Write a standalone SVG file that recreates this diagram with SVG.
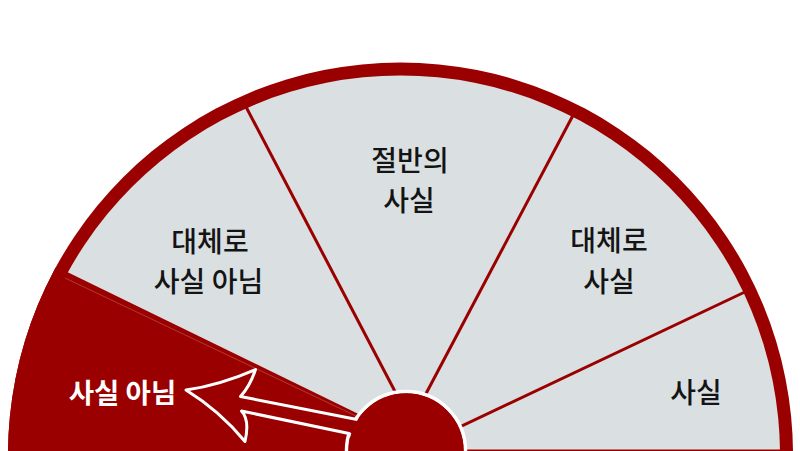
<svg xmlns="http://www.w3.org/2000/svg" width="800" height="451" viewBox="0 0 800 451">
  <defs>
    <clipPath id="outerClip">
      <circle cx="400.5" cy="455" r="392.5"/>
    </clipPath>
    <clipPath id="topClip">
      <rect x="0" y="0" width="800" height="449.5"/>
    </clipPath>
    <style>
      .red { fill: #9b0000; }
      .gray { fill: #dadfe2; }
      .div { stroke: #9b0000; stroke-width: 3; fill: none; }
      .lbl { font-family: "Noto Sans CJK KR", "Noto Sans", sans-serif; font-size: 28px; font-weight: 500; fill: #141414; text-anchor: middle; }
      .lblw { font-family: "Noto Sans CJK KR", "Noto Sans", sans-serif; font-size: 27.5px; font-weight: bold; fill: #ffffff; text-anchor: middle; }
    </style>
  </defs>
  <rect width="800" height="451" fill="#ffffff"/>

  <g id="dial">
    <circle class="red" cx="400.5" cy="455" r="392.5"/>
    <circle class="gray" cx="400.5" cy="455" r="379.5" clip-path="url(#topClip)"/>
  </g>

  <g id="seg-false" clip-path="url(#outerClip)">
    <polygon class="red" points="-60,210 380,424.5 380,460 -60,460"/>
    <line x1="65" y1="278" x2="356" y2="416" stroke="#ffffff" stroke-opacity="0.22" stroke-width="1"/>
  </g>

  <g id="connectors">
    <line class="div" x1="244" y1="103" x2="411" y2="422"/>
    <line class="div" x1="574.5" y1="112.5" x2="411" y2="422"/>
    <line class="div" x1="748" y1="290.5" x2="400.5" y2="455"/>
  </g>

  <g id="seg-mostly-false">
    <text class="lbl" x="210" y="252">대체로</text>
    <text class="lbl" x="208.5" y="292">사실 아님</text>
  </g>
  <g id="seg-half-true">
    <text class="lbl" x="410" y="171">절반의</text>
    <text class="lbl" x="409" y="211">사실</text>
  </g>
  <g id="seg-mostly-true">
    <text class="lbl" x="609" y="251">대체로</text>
    <text class="lbl" x="609" y="292">사실</text>
  </g>
  <g id="seg-true">
    <text class="lbl" x="696" y="403">사실</text>
  </g>
  <g id="seg-false-label">
    <text class="lblw" x="122.5" y="403">사실 아님</text>
  </g>

  <g id="hub">
    <circle cx="406" cy="451" r="59.5" fill="#9b0000" stroke="#ffffff" stroke-width="3.5"/>
  </g>
  <g id="pointer">
    <path d="M 385,425 L 240.5,396.5 Q 250,386 255.5,369.5 Q 220,385 186,390 Q 220,411 245,441.5 Q 250,420 241.5,411 L 349,433.5 L 375,455 L 385,455 Z" fill="#9b0000" stroke="#ffffff" stroke-width="3" stroke-linejoin="round"/>
    <circle cx="406" cy="451" r="57.5" fill="#9b0000"/>
  </g>
</svg>
